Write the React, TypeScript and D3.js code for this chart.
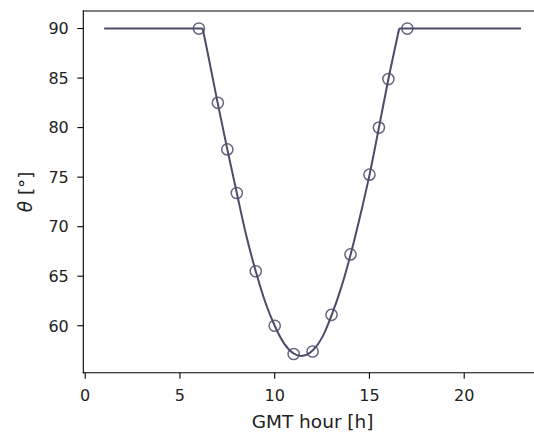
import React from "react";
import * as d3 from "d3";

// Continuous curve (GMT hour, zenith angle)
const lineHours = [1, 6.2, 6.5, 7, 7.5, 8, 8.5, 9, 9.5, 10, 10.5, 11, 11.4, 12, 12.5, 13, 13.5, 14, 14.5, 15, 15.5, 16, 16.57, 23];
const lineTheta = [90, 90, 87.2, 82.4, 77.8, 73.4, 69.1, 65.5, 62.4, 60.0, 58.2, 57.2, 56.95, 57.5, 58.8, 61.05, 63.8, 67.15, 71.0, 75.2, 80.0, 84.9, 90, 90];

// Observed samples (open circles)
const markerHours = [6, 7, 7.5, 8, 9, 10, 11, 12, 13, 14, 15, 15.5, 16, 17];
const markerTheta = [90, 82.5, 77.8, 73.4, 65.5, 60.0, 57.15, 57.4, 61.1, 67.2, 75.25, 80.0, 84.9, 90];

const xTicks = [0, 5, 10, 15, 20];
const yTicks = [60, 65, 70, 75, 80, 85, 90];

const W = 534;
const H = 437;
const left = 83.3;
const right = 541.9;
const top = 11;
const bottom = 372.7;

export default function App() {
  const x = d3.scaleLinear().domain([-0.1, 24.1]).range([left, right]);
  const y = d3.scaleLinear().domain([55.26, 91.77]).range([bottom, top]);

  const pts: [number, number][] = lineHours.map((h, i) => [h, lineTheta[i]]);
  const i0 = 1;
  const i1 = pts.length - 2;
  const flatL = pts.slice(0, i0 + 1);
  const mid = pts.slice(i0, i1 + 1);
  const flatR = pts.slice(i1);

  const lin = d3.line<[number, number]>().x((d) => x(d[0])).y((d) => y(d[1]));
  const smooth = d3
    .line<[number, number]>()
    .x((d) => x(d[0]))
    .y((d) => y(d[1]))
    .curve(d3.curveMonotoneX);

  const col = "#4b4b6b";
  const font = "DejaVu Sans, sans-serif";
  const tickFs = 16;
  const labFs = 18.5;

  return (
    <svg
      width={W}
      height={H}
      style={{ position: "absolute", left: 0, top: 0, background: "#fff" }}
      fontFamily={font}
    >
      <rect x={0} y={0} width={W} height={H} fill="#fff" />
      {/* data line */}
      <path d={lin(flatL) || ""} fill="none" stroke={col} strokeWidth={2} strokeLinejoin="round" />
      <path d={smooth(mid) || ""} fill="none" stroke={col} strokeWidth={2} strokeLinejoin="round" />
      <path d={lin(flatR) || ""} fill="none" stroke={col} strokeWidth={2} strokeLinejoin="round" />
      {/* markers */}
      {markerHours.map((h, i) => (
        <circle
          key={i}
          cx={x(h)}
          cy={y(markerTheta[i])}
          r={5.6}
          fill="none"
          stroke={col}
          strokeOpacity={0.85}
          strokeWidth={1.5}
        />
      ))}
      {/* spines */}
      <line x1={left} x2={left} y1={top} y2={bottom} stroke="#000" strokeWidth={1.1} strokeLinecap="square" />
      <line x1={left} x2={right} y1={top} y2={top} stroke="#000" strokeWidth={1.1} strokeLinecap="square" />
      <line x1={left} x2={right} y1={bottom} y2={bottom} stroke="#000" strokeWidth={1.1} strokeLinecap="square" />
      <line x1={right} x2={right} y1={top} y2={bottom} stroke="#000" strokeWidth={1.1} />
      {/* x ticks */}
      {xTicks.map((t) => (
        <g key={t}>
          <line x1={x(t)} x2={x(t)} y1={bottom} y2={bottom + 6} stroke="#000" strokeWidth={1.1} />
          <text x={x(t)} y={401} textAnchor="middle" fontSize={tickFs} fill="#222">
            {t}
          </text>
        </g>
      ))}
      {/* y ticks */}
      {yTicks.map((t) => (
        <g key={t}>
          <line x1={left - 6} x2={left} y1={y(t)} y2={y(t)} stroke="#000" strokeWidth={1.1} />
          <text x={left - 14.5} y={y(t)} dy="0.36em" textAnchor="end" fontSize={tickFs} fill="#222">
            {t}
          </text>
        </g>
      ))}
      {/* axis labels */}
      <text x={(left + right) / 2} y={428} textAnchor="middle" fontSize={labFs} fill="#222">
        GMT hour [h]
      </text>
      <text
        transform={`translate(32,${(top + bottom) / 2}) rotate(-90)`}
        textAnchor="middle"
        fontSize={labFs}
        fill="#222"
      >
        <tspan fontStyle="italic">θ</tspan>
        <tspan> [°]</tspan>
      </text>
    </svg>
  );
}
